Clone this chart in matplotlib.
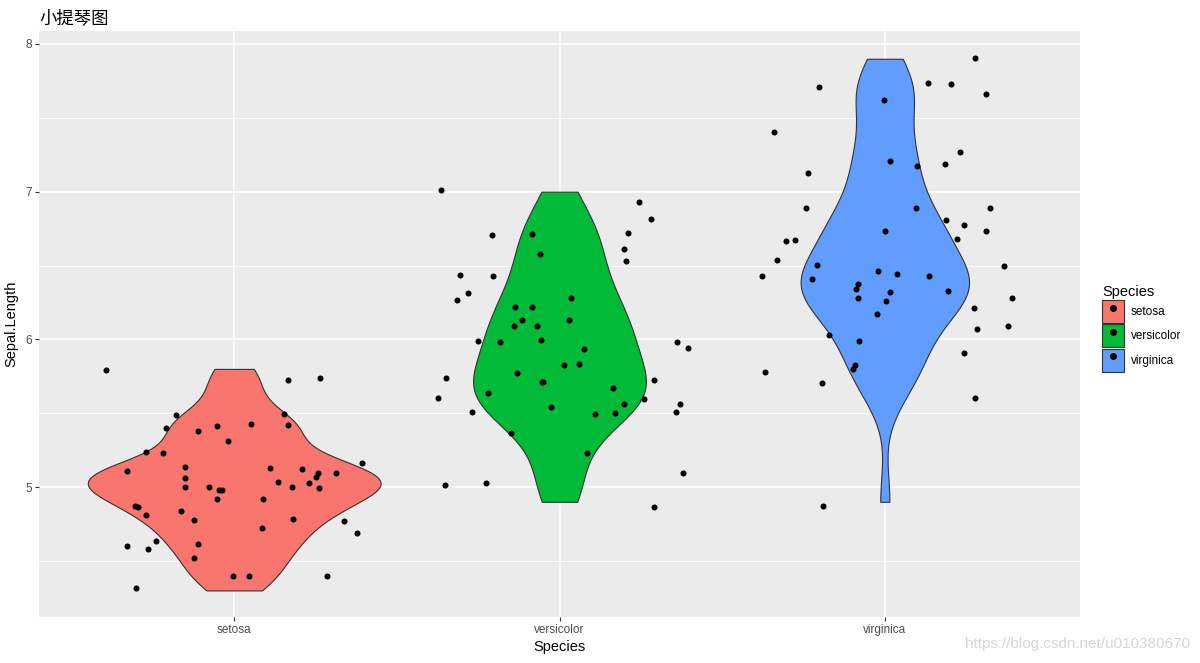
import numpy as np
import matplotlib.pyplot as plt
from matplotlib.patches import Patch
from matplotlib.lines import Line2D

plt.rcParams['font.family'] = ['Liberation Sans', 'Noto Sans CJK SC', 'DejaVu Sans']

species = ['setosa', 'versicolor', 'virginica']
colors = ['#F8766D', '#00BA38', '#619CFF']

# iris Sepal.Length, used for the violins
setosa = [5.1, 4.9, 4.7, 4.6, 5.0, 5.4, 4.6, 5.0, 4.4, 4.9, 5.4, 4.8, 4.8, 4.3, 5.8, 5.7, 5.4,
          5.1, 5.7, 5.1, 5.4, 5.1, 4.6, 5.1, 4.8, 5.0, 5.0, 5.2, 5.2, 4.7, 4.8, 5.4, 5.2, 5.5,
          4.9, 5.0, 5.5, 4.9, 4.4, 5.1, 5.0, 4.5, 4.4, 5.0, 5.1, 4.8, 5.1, 4.6, 5.3, 5.0]
versicolor = [7.0, 6.4, 6.9, 5.5, 6.5, 5.7, 6.3, 4.9, 6.6, 5.2, 5.0, 5.9, 6.0, 6.1, 5.6, 6.7, 5.6,
              5.8, 6.2, 5.6, 5.9, 6.1, 6.3, 6.1, 6.4, 6.6, 6.8, 6.7, 6.0, 5.7, 5.5, 5.5, 5.8, 6.0,
              5.4, 6.0, 6.7, 6.3, 5.6, 5.5, 5.5, 6.1, 5.8, 5.0, 5.6, 5.7, 5.7, 6.2, 5.1, 5.7]
virginica = [6.3, 5.8, 7.1, 6.3, 6.5, 7.6, 4.9, 7.3, 6.7, 7.2, 6.5, 6.4, 6.8, 5.7, 5.8, 6.4, 6.5,
             7.7, 7.7, 6.0, 6.9, 5.6, 7.7, 6.3, 6.7, 7.2, 6.2, 6.1, 6.4, 7.2, 7.4, 7.9, 6.4, 6.3,
             6.1, 7.7, 6.3, 6.4, 6.0, 6.9, 6.7, 6.9, 5.8, 6.8, 6.7, 6.7, 6.3, 6.5, 6.2, 5.9]

# jittered points: horizontal offset from the category, value
setosa_dx = [-0.395, 0.164, 0.265, -0.180, 0.152, -0.211, -0.110, -0.054, 0.053, 0.164,
             -0.020, -0.272, -0.220, 0.394, -0.331, -0.150, 0.109, 0.207, 0.259, 0.250,
             0.314, -0.150, 0.136, 0.231, -0.150, -0.076, -0.048, -0.036, 0.179, 0.262,
             -0.054, 0.090, -0.306, -0.297, -0.270, -0.165, -0.125, 0.182, 0.339, 0.084,
             0.379, -0.239, -0.110, -0.331, -0.266, -0.122, -0.005, 0.044, 0.284, -0.303]
setosa_y = [5.790, 5.722, 5.736, 5.485, 5.494, 5.397, 5.377, 5.411, 5.424, 5.418,
            5.309, 5.235, 5.228, 5.160, 5.106, 5.133, 5.126, 5.120, 5.093, 5.065,
            5.093, 5.059, 5.032, 5.025, 4.998, 4.998, 4.977, 4.977, 4.998, 4.991,
            4.916, 4.916, 4.871, 4.862, 4.808, 4.835, 4.774, 4.781, 4.767, 4.720,
            4.686, 4.632, 4.612, 4.598, 4.578, 4.517, 4.395, 4.395, 4.395, 4.314]

versicolor_dx = [-0.363, 0.245, 0.282, -0.209, -0.083, 0.211, -0.059, 0.199, 0.205, -0.305,
                 -0.203, -0.280, -0.314, 0.036, -0.136, -0.083, -0.114, 0.030, -0.139, -0.068,
                 -0.252, -0.182, -0.056, 0.362, 0.396, 0.076, 0.015, 0.061, -0.130, -0.348,
                 -0.055, -0.052, 0.291, -0.219, 0.165, -0.372, 0.261, 0.199, 0.371, -0.025,
                 -0.268, 0.110, 0.172, 0.359, -0.148, 0.086, 0.380, -0.351, -0.225, 0.291]
versicolor_y = [7.009, 6.928, 6.813, 6.704, 6.711, 6.718, 6.576, 6.609, 6.528, 6.433,
                6.427, 6.312, 6.264, 6.278, 6.217, 6.217, 6.129, 6.129, 6.088, 6.088,
                5.986, 5.980, 5.993, 5.980, 5.939, 5.932, 5.824, 5.831, 5.770, 5.736,
                5.709, 5.712, 5.722, 5.634, 5.668, 5.600, 5.594, 5.560, 5.560, 5.540,
                5.506, 5.492, 5.499, 5.506, 5.363, 5.228, 5.093, 5.011, 5.025, 4.862]

virginica_dx = [0.278, -0.202, 0.133, 0.204, 0.311, -0.002, -0.340, 0.231, 0.016, 0.099,
                0.185, -0.236, -0.242, 0.096, 0.324, 0.188, 0.244, 0.001, 0.311, -0.303,
                -0.275, 0.222, -0.331, -0.208, 0.367, -0.377, -0.020, 0.038, 0.136, -0.223,
                -0.082, -0.088, 0.195, 0.016, 0.391, -0.082, 0.004, 0.274, -0.024, 0.284,
                0.379, -0.171, -0.079, 0.244, -0.091, -0.097, -0.368, -0.193, 0.278, -0.189]
virginica_y = [7.903, 7.707, 7.734, 7.727, 7.659, 7.619, 7.402, 7.266, 7.205, 7.172,
               7.185, 7.124, 6.887, 6.887, 6.887, 6.806, 6.772, 6.731, 6.731, 6.664,
               6.670, 6.677, 6.535, 6.501, 6.494, 6.427, 6.460, 6.440, 6.427, 6.406,
               6.372, 6.341, 6.325, 6.318, 6.278, 6.278, 6.257, 6.210, 6.169, 6.068,
               6.088, 6.027, 5.986, 5.905, 5.824, 5.797, 5.777, 5.702, 5.600, 4.869]

groups = [setosa, versicolor, virginica]
jit_dx = [setosa_dx, versicolor_dx, virginica_dx]
jit_y = [setosa_y, versicolor_y, virginica_y]


def kde_nrd0(vals, n=512):
    # gaussian kde with R's bw.nrd0, trimmed to the data range
    v = np.asarray(vals)
    q75, q25 = np.percentile(v, [75, 25])
    bw = 0.9 * min(v.std(ddof=1), (q75 - q25) / 1.34) * len(v) ** -0.2
    grid = np.linspace(v.min(), v.max(), n)
    d = np.exp(-0.5 * ((grid[:, None] - v[None, :]) / bw) ** 2).sum(1)
    d /= len(v) * bw * np.sqrt(2 * np.pi)
    return grid, d


dens = [kde_nrd0(g) for g in groups]
dmax = max(d.max() for _, d in dens)

fig = plt.figure(figsize=(12, 6.63), dpi=100)
ax = fig.add_axes([39 / 1200, 1 - 617 / 663, 1041 / 1200, 586 / 663])
ax.set_facecolor('#EBEBEB')

for i, (grid, d) in enumerate(dens):
    w = 0.45 * d / dmax
    ax.fill_betweenx(grid, i + 1 - w, i + 1 + w, facecolor=colors[i],
                     edgecolor='#333333', linewidth=0.8, zorder=2)
    ax.scatter(np.array(jit_dx[i]) + i + 1, jit_y[i], s=19, color='black',
               linewidths=0, zorder=3)

ax.set_xlim(0.4, 3.6)
ax.set_ylim(4.12, 8.088)
ax.set_xticks([1, 2, 3])
ax.set_xticklabels(species)
ax.set_yticks([5, 6, 7, 8])
ax.set_yticks([4.5, 5.5, 6.5, 7.5], minor=True)
ax.grid(which='major', color='white', linewidth=1.1, zorder=0)
ax.grid(which='minor', axis='y', color='white', linewidth=0.55, zorder=0)
ax.set_axisbelow(True)
for s in ax.spines.values():
    s.set_visible(False)
ax.tick_params(axis='both', which='major', length=3, width=0.8, color='#333333',
               labelcolor='#4D4D4D', labelsize=8.5, pad=2.2)
ax.tick_params(axis='y', which='minor', length=0)

ax.set_xlabel('Species', fontsize=10.5, labelpad=3)
ax.set_ylabel('Sepal.Length', fontsize=10.5, labelpad=5)
ax.set_title('小提琴图', loc='left', fontsize=12.5, pad=6,
             family=['Noto Sans CJK SC', 'DejaVu Sans'])

handles = [(Patch(facecolor=c, edgecolor='#333333', linewidth=0.8),
            Line2D([], [], marker='o', linestyle='none', color='black', markersize=4))
           for c in colors]
fig.legend(handles, species, title='Species', loc='upper left',
           bbox_to_anchor=(1096 / 1200, 1 - 279 / 663), frameon=False,
           fontsize=8.5, title_fontsize=10.5, handlelength=1.86, handleheight=2.63,
           labelspacing=0.1, handletextpad=0.6, borderpad=0, alignment='left')

fig.text(0.992, 0.018, 'https://blog.csdn.net/u010380670', ha='right', va='bottom',
         fontsize=11, color='#D6D6D6')

fig.savefig('out.png', dpi=100)
